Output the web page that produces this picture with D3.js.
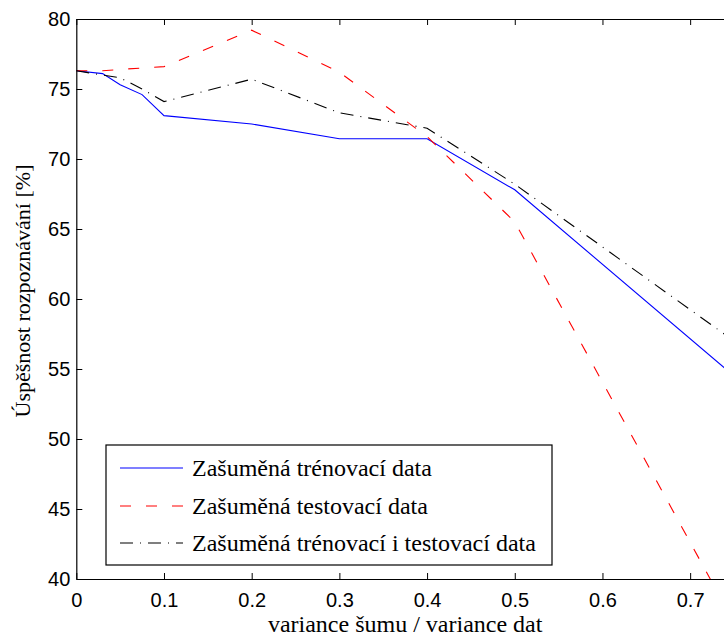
<!DOCTYPE html>
<html>
<head>
<meta charset="utf-8">
<script src="https://cdn.jsdelivr.net/npm/d3@7"></script>
<style>
  body { margin: 0; background: #fff; }
  svg { display: block; }
  .tick text { font-family: "Liberation Sans", Arial, sans-serif; font-size: 20px; fill: #000; }
  .lab { font-family: "Liberation Serif", "Times New Roman", serif; font-size: 24px; fill: #000; }
</style>
</head>
<body>
<script>
// noise variance ratio (x) and recognition rate [%] for three experiments
var noiseRatio = [0, 0.03, 0.05, 0.075, 0.1, 0.2, 0.3, 0.4, 0.5, 0.75];
var trainNoisy = [76.3, 76.1, 75.3, 74.6, 73.1, 72.5, 71.45, 71.45, 67.8, 54.5];
var testNoisy  = [76.3, 76.3, 76.4, 76.5, 76.6, 79.2, 76.2, 71.6, 65.5, 36.9];
var bothNoisy  = [76.3, 76.0, 75.8, 75.0, 74.1, 75.7, 73.3, 72.2, 68.2, 57.0];
var xTicks = [0, 0.1, 0.2, 0.3, 0.4, 0.5, 0.6, 0.7];
var yTicks = [40, 45, 50, 55, 60, 65, 70, 75, 80];
var seriesNames = ['Zašuměná trénovací data', 'Zašuměná testovací data', 'Zašuměná trénovací i testovací data'];

var W = 724, H = 637;
var mLeft = 76.3, mTop = 19, mBottom = 579, mRight = 734;

var svg = d3.select('body').append('svg').attr('width', W).attr('height', H);

var x = d3.scaleLinear().domain([0, 0.75]).range([mLeft, mRight]);
var y = d3.scaleLinear().domain([40, 80]).range([mBottom, mTop]);

svg.append('defs').append('clipPath').attr('id', 'plot')
  .append('rect').attr('x', mLeft).attr('y', mTop).attr('width', mRight - mLeft).attr('height', mBottom - mTop);

var series = [
  { vals: trainNoisy, color: '#0000ff', dash: null },
  { vals: testNoisy, color: '#ff0000', dash: '11,15' },
  { vals: bothNoisy, color: '#000000', dash: '13,7,1,7' }
];

var line = d3.line()
  .x(function (d) { return x(d[0]); })
  .y(function (d) { return y(d[1]); });

var g = svg.append('g').attr('clip-path', 'url(#plot)');
series.forEach(function (s) {
  g.append('path')
    .datum(noiseRatio.map(function (v, i) { return [v, s.vals[i]]; }))
    .attr('d', line)
    .attr('fill', 'none')
    .attr('stroke', s.color)
    .attr('stroke-width', 1.1)
    .attr('stroke-dasharray', s.dash);
});

// axes, matlab style ticks pointing inwards
var fmt = function (d) { return d === 0 ? '0' : d3.format('.1f')(d); };
svg.append('g').attr('transform', 'translate(0,' + mBottom + ')')
  .call(d3.axisBottom(x).tickValues(xTicks).tickFormat(fmt).tickSizeInner(-6).tickSizeOuter(0).tickPadding(14));
svg.append('g').attr('transform', 'translate(0,' + mTop + ')')
  .call(d3.axisTop(x).tickValues(xTicks).tickFormat('').tickSizeInner(-6).tickSizeOuter(0));
svg.append('g').attr('transform', 'translate(' + mLeft + ',0)')
  .call(d3.axisLeft(y).tickValues(yTicks).tickSizeInner(-6).tickSizeOuter(0).tickPadding(6));
svg.selectAll('.domain').attr('stroke', '#000').attr('stroke-width', 1.2);
svg.selectAll('.tick line').attr('stroke', '#000');
svg.selectAll('.tick text').attr('font-size', null).attr('font-family', null);

// axis titles
svg.append('text').attr('class', 'lab')
  .attr('x', (mLeft + mRight) / 2).attr('y', 632)
  .attr('text-anchor', 'middle')
  .text('variance šumu / variance dat');
svg.append('text').attr('class', 'lab')
  .attr('transform', 'translate(30,' + ((mTop + mBottom) / 2 - 8) + ') rotate(-90)')
  .attr('text-anchor', 'middle')
  .style('font-size', '22px')
  .text('Úspěšnost rozpoznávání [%]');

// legend
var lg = svg.append('g');
lg.append('rect').attr('x', 106).attr('y', 445).attr('width', 446).attr('height', 120)
  .attr('fill', '#fff').attr('stroke', '#000').attr('stroke-width', 1.2);
var rows = [468, 506, 543];
series.forEach(function (s, i) {
  lg.append('line').attr('x1', 120).attr('x2', 183).attr('y1', rows[i]).attr('y2', rows[i])
    .attr('stroke', s.color).attr('stroke-width', 1.1).attr('stroke-dasharray', s.dash);
  lg.append('text').attr('class', 'lab').attr('x', 192).attr('y', rows[i]).attr('dy', '0.33em')
    .text(seriesNames[i]);
});
</script>
</body>
</html>
